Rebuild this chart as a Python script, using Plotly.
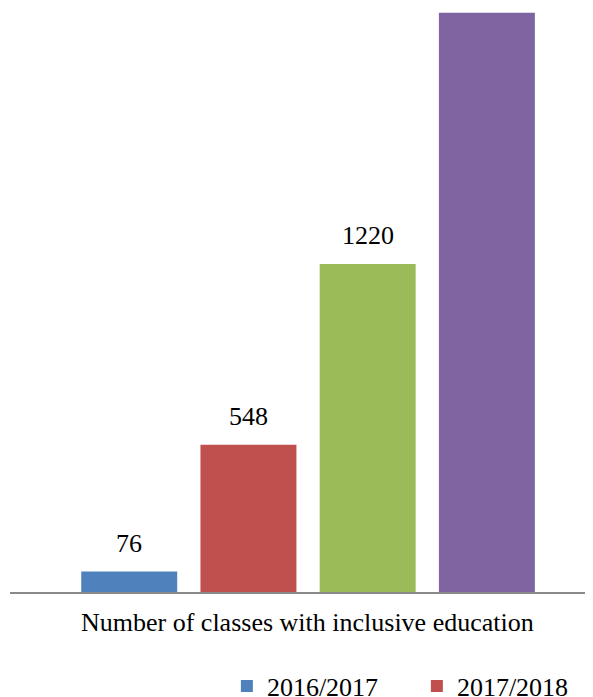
import plotly.graph_objects as go

series_names = ["2016/2017", "2017/2018", "2018/2019", "2019/2020"]
values = [76, 548, 1220, 2154]
colors = ["#4F81BD", "#C0504D", "#9BBB59", "#8064A2"]
legend_visible = [True, True, False, False]  # only the first two entries are within the picture
category_label = "Number of classes with inclusive education"

FONT = "Liberation Serif, Times New Roman, serif"

fig = go.Figure()
for name, v, c, lv in zip(series_names, values, colors, legend_visible):
    fig.add_trace(go.Bar(x=[name], y=[v], name=name, marker=dict(color=c, line=dict(width=0)),
                         showlegend=lv))
    fig.add_annotation(x=name, y=v, xref="x", yref="y", text=str(v), showarrow=False,
                       yanchor="bottom", yshift=12, font=dict(family=FONT, size=26, color="black"))

fig.add_annotation(x=0.51, y=0, xref="paper", yref="paper", text=category_label, showarrow=False,
                   yanchor="top", yshift=-14, font=dict(family=FONT, size=26, color="black"))

fig.update_layout(
    width=585, height=689,
    margin=dict(l=2, r=0, t=0, b=105, autoexpand=False),
    paper_bgcolor="white", plot_bgcolor="white",
    barmode="overlay", bargap=0.195,
    font=dict(family=FONT, size=26, color="black"),
    showlegend=True,
    legend=dict(orientation="h", x=0.372, y=-0.121, xanchor="left", yanchor="top",
                font=dict(family=FONT, size=26, color="black"), traceorder="normal",
                entrywidth=145, entrywidthmode="pixels"),
    xaxis=dict(range=[-1.0, 3.89], showticklabels=False, ticks="", showgrid=False, zeroline=False,
               showline=True, linecolor="#898989", linewidth=2),
    yaxis=dict(range=[0, 2172], visible=False, showgrid=False, zeroline=False),
)

fig.write_html("out.html")
